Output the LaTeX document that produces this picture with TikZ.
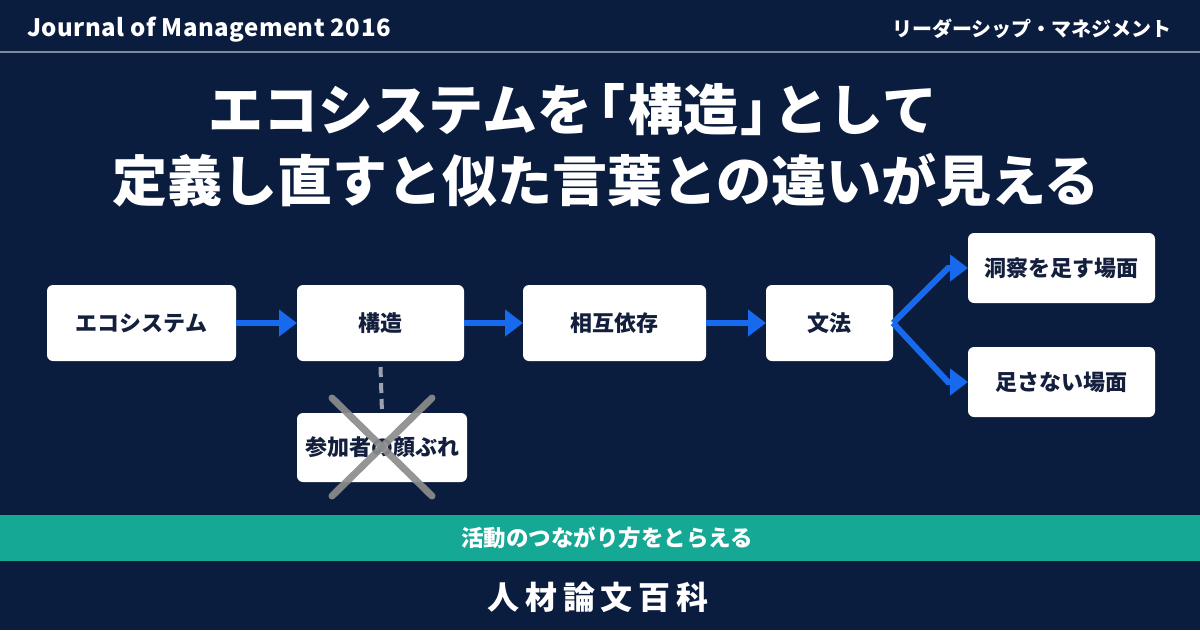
\documentclass[tikz,border=0pt]{standalone}
\usepackage{fontspec}
\setmainfont{Noto Sans CJK JP}
\usetikzlibrary{arrows.meta}
\definecolor{bg}{HTML}{0B1D3E}
\definecolor{navy}{HTML}{131F3C}
\definecolor{arrowblue}{HTML}{1769EE}
\definecolor{bandteal}{HTML}{14A895}
\definecolor{crossgray}{HTML}{8C8C8C}
\definecolor{dashgray}{HTML}{9AA2AD}
\definecolor{rulegray}{HTML}{7D8AA0}
\begin{document}
\begin{tikzpicture}[x=1pt,y=-1pt,
  box/.style={fill=white, rounded corners=6pt, draw=none, inner sep=0pt, outer sep=0pt,
    text=navy, font=\bfseries\fontsize{22}{26}\selectfont},
  flow/.style={draw=arrowblue, line width=6pt, line join=miter,
    -{Triangle[length=18pt,width=26pt]}},
  whitetext/.style={text=white, inner sep=0pt},
]
\useasboundingbox (0,0) rectangle (1200,630);
\fill[bg] (0,0) rectangle (1200,630);

% header
\node[whitetext, anchor=base west, font=\bfseries\fontsize{24}{28}\selectfont\addfontfeature{LetterSpace=2}] (journal) at (27,36) {Journal of Management 2016};
\node[whitetext, anchor=base east, font=\bfseries\fontsize{20}{24}\selectfont] (series) at (1172,36) {リーダーシップ・マネジメント};
\draw[rulegray, line width=2.5pt] (0,52) -- (1200,52);

% title
\node[whitetext, font=\bfseries\fontsize{55}{60}\selectfont] (title1) at (573,110) {エコシステムを\kern-0.4em「\kern0.05em構造\kern0.05em」\kern-0.4em として};
\node[whitetext, font=\bfseries\fontsize{55}{60}\selectfont] (title2) at (606,180) {定義し直すと似た言葉との違いが見える};

% boxes
\node[box, minimum width=189pt, minimum height=76pt] (eco) at (141.5,323) {エコシステム};
\node[box, minimum width=167pt, minimum height=76pt] (kozo) at (380.5,323) {構造};
\node[box, minimum width=183pt, minimum height=76pt] (sogo) at (614.5,323) {相互依存};
\node[box, minimum width=127pt, minimum height=76pt] (bunpo) at (829.5,323) {文法};
\node[box, minimum width=187pt, minimum height=70pt] (dosatsu) at (1061.5,268) {洞察を足す場面};
\node[box, minimum width=187pt, minimum height=70pt] (tasanai) at (1061.5,382) {足さない場面};
\node[box, minimum width=170pt, minimum height=69pt] (sanka) at (382,447.5) {参加者の顔ぶれ};

% connectors
\draw[flow] (eco.east) -- (kozo.west);
\draw[flow] (kozo.east) -- (sogo.west);
\draw[flow] (sogo.east) -- (bunpo.west);
\coordinate (bup) at (948,268);
\coordinate (bdown) at (948,382);
\draw[flow] (bunpo.east) -- (bup) -- (dosatsu.west);
\draw[flow] (bunpo.east) -- (bdown) -- (tasanai.west);
\draw[dashgray, line width=4pt, dash pattern=on 10pt off 6pt] ([yshift=-6pt]kozo.south) -- (sanka.north);

% cross
\coordinate (xa) at (332,398);
\coordinate (xb) at (432,496);
\coordinate (xc) at (432,398);
\coordinate (xd) at (332,496);
\draw[crossgray, line width=7pt, line cap=round, opacity=0.92] (xa) -- (xb);
\draw[crossgray, line width=7pt, line cap=round, opacity=0.92] (xc) -- (xd);

% band
\fill[bandteal] (0,515) rectangle (1200,561);
\node[whitetext, font=\bfseries\fontsize{22.5}{26}\selectfont] (band) at (607,538) {活動のつながり方をとらえる};

% footer
\node[whitetext, font=\bfseries\fontsize{32}{36}\selectfont\addfontfeature{LetterSpace=18}] (footer) at (598,597) {人材論文百科};
\end{tikzpicture}
\end{document}
